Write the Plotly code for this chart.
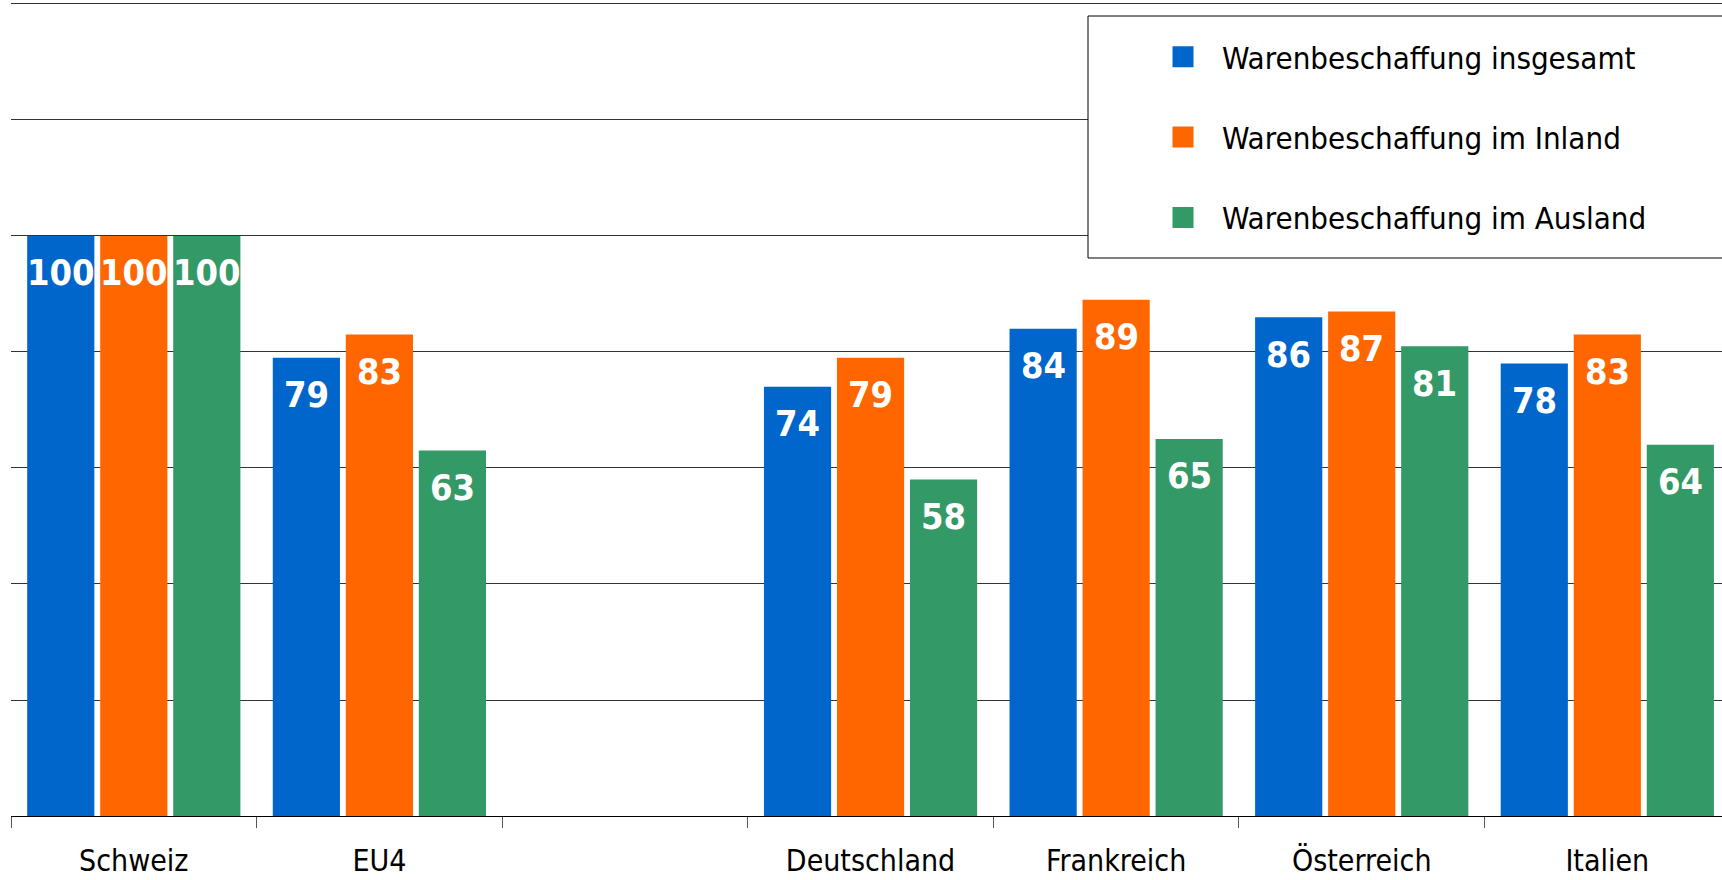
import plotly.graph_objects as go

CATEGORIES = ["Schweiz", "EU4", " ", "Deutschland", "Frankreich", "Österreich", "Italien"]
SERIES_NAMES = [
	"Warenbeschaffung insgesamt",
	"Warenbeschaffung im Inland",
	"Warenbeschaffung im Ausland",
]
INSGESAMT = [100, 79, None, 74, 84, 86, 78]
INLAND = [100, 83, None, 79, 89, 87, 83]
AUSLAND = [100, 63, None, 58, 65, 81, 64]
COLORS = ["#0066CC", "#FF6600", "#339966"]

FONT = "DejaVu Sans Condensed, Tahoma, DejaVu Sans, sans-serif"

WIDTH, HEIGHT = 1722, 880
MARGIN = dict(l = 11, r = 0, t = 2, b = 64)
X_RANGE = [-0.5, 6.467]
BARGAP = 0.108
BARGROUPGAP = 0.08

plot_w = WIDTH - MARGIN["l"] - MARGIN["r"]
plot_h = HEIGHT - MARGIN["t"] - MARGIN["b"]

def paper_x(px):
	return (px - MARGIN["l"]) / plot_w

def paper_y(py):
	return (HEIGHT - MARGIN["b"] - py) / plot_h

# pixel pitch between the bars of one group, used to place the value labels
cat_px = plot_w / (X_RANGE[1] - X_RANGE[0])
bar_pitch = cat_px * (1 - BARGAP) / len(SERIES_NAMES)

fig = go.Figure()

all_values = [INSGESAMT, INLAND, AUSLAND]
for i, (name, values, color) in enumerate(zip(SERIES_NAMES, all_values, COLORS)):
	fig.add_trace(go.Bar(
		x = CATEGORIES,
		y = values,
		name = name,
		marker = dict(color = color, line = dict(width = 0)),
		showlegend = False,
	))
	shift = (i - 1) * bar_pitch
	for cat, v in zip(CATEGORIES, values):
		if v is None:
			continue
		fig.add_annotation(
			x = cat, y = v,
			xref = "x", yref = "y",
			text = str(v),
			showarrow = False,
			xshift = shift,
			yshift = -37,
			yanchor = "middle",
			font = dict(family = FONT, size = 36, color = "white", weight = "bold"),
		)

# legend proxies with bigger square symbols
for name, color in zip(SERIES_NAMES, COLORS):
	fig.add_trace(go.Scatter(
		x = [None],
		y = [None],
		mode = "markers",
		name = name,
		legendgroup = name,
		marker = dict(symbol = "square", size = 16, color = color, line = dict(color = color, width = 5)),
	))

# legend frame, running off the right edge like in the original
fig.add_shape(
	type = "rect",
	xref = "paper", yref = "paper",
	x0 = paper_x(1088), x1 = paper_x(1740),
	y0 = paper_y(258), y1 = paper_y(16),
	line = dict(color = "black", width = 1),
	fillcolor = "white",
	layer = "above",
)

fig.update_layout(
	width = WIDTH,
	height = HEIGHT,
	margin = dict(**MARGIN, autoexpand = False),
	paper_bgcolor = "white",
	plot_bgcolor = "white",
	barmode = "group",
	bargap = BARGAP,
	bargroupgap = BARGROUPGAP,
	font = dict(family = FONT, size = 31, color = "black"),
	legend = dict(
		x = paper_x(1089),
		y = 0.983,
		xanchor = "left",
		yanchor = "top",
		borderwidth = 0,
		bgcolor = "rgba(0,0,0,0)",
		font = dict(family = FONT, size = 31, color = "black"),
		title = dict(text = "&nbsp;", font = dict(size = 11)),
		tracegroupgap = 37,
		itemwidth = 68,
		indentation = 55,
		itemsizing = "trace",
	),
	xaxis = dict(
		type = "category",
		categoryorder = "array",
		categoryarray = CATEGORIES,
		range = X_RANGE,
		showgrid = False,
		showline = True,
		linecolor = "black",
		linewidth = 1,
		ticks = "outside",
		tickson = "boundaries",
		ticklen = 11,
		tickcolor = "#555555",
		tickfont = dict(family = FONT, size = 30, color = "black"),
		ticklabelstandoff = 18,
	),
	yaxis = dict(
		range = [0, 140.34],
		tick0 = 0,
		dtick = 20,
		showgrid = True,
		gridcolor = "#333333",
		gridwidth = 1,
		showticklabels = False,
		zeroline = False,
		showline = False,
		ticks = "",
	),
)

fig.write_html(
	"out.html",
	config = dict(displayModeBar = False),
	post_script = "document.body.style.margin = '0';",
)
